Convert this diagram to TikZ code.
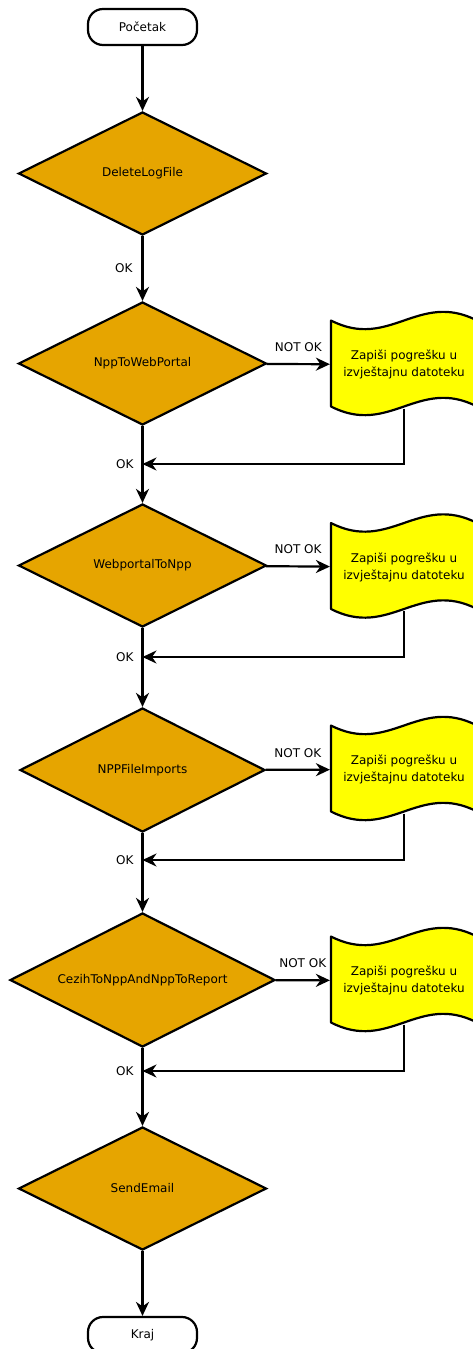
\documentclass[tikz,border=0pt]{standalone}
\usepackage{fontspec}
\setmainfont{DejaVu Sans}
\usetikzlibrary{shapes.geometric,arrows.meta,calc}
\definecolor{decisionfill}{RGB}{230,165,0}
\definecolor{notefill}{RGB}{255,255,0}
\begin{document}
\begin{tikzpicture}[x=1pt,y=-1pt,
  font=\fontsize{12}{17}\selectfont,
  line width=2.2pt,
  every node/.style={inner sep=0pt},
  terminal/.style={draw, rectangle, rounded corners=15pt, minimum width=109pt,
    minimum height=36pt, fill=white},
  decision/.style={draw, diamond, aspect=2, fill=decisionfill, minimum width=248pt,
    minimum height=123pt},
  notebox/.style={minimum width=146pt, minimum height=86pt, align=center},
  wavebox/.style={draw, fill=notefill, line join=round},
  flow/.style={-{Stealth[length=14pt,width=13pt,inset=4.5pt]}},
  notok/.style={midway, yshift=17pt},
  oklbl/.style={left=8pt}
]
\useasboundingbox (0,0) rectangle (472,1349);

% start / end terminals
\node[terminal] (start) at (142.5,27) {Početak};
\node[terminal] (stop)  at (142.5,1335) {Kraj};

% decision steps
\node[decision] (d1) at (142.5,173.5) {DeleteLogFile};
\node[decision] (d2) at (142.5,363.5) {NppToWebPortal};
\node[decision] (d3) at (142.5,565.5) {WebportalToNpp};
\node[decision, minimum width=245pt, minimum height=124pt] (d4) at (142.5,770) {NPPFileImports};
\node[decision, minimum width=265pt, minimum height=134pt] (d5) at (142.5,980) {CezihToNppAndNppToReport};
\node[decision] (d6) at (142.5,1188.5) {SendEmail};

% error-report boxes with wavy top and bottom
\foreach \cy/\nm in {363.5/e1, 566/e2, 768.5/e3, 979.5/e4} {
  \draw[wavebox] (331,\cy-43) .. controls +(58.4,30) and +(-58.4,-30) .. (477,\cy-43)
    -- (477,\cy+43) .. controls +(-58.4,-30) and +(58.4,30) .. (331,\cy+43) -- cycle;
  \node[notebox] (\nm) at (404,\cy+1) {Zapiši pogrešku u\\izvještajnu datoteku};
}

% junctions where the error path rejoins the main flow
\coordinate (j1) at (142.5,464);
\coordinate (j2) at (142.5,657);
\coordinate (j3) at (142.5,860);
\coordinate (j4) at (142.5,1071);

% main flow
\draw[flow] (start) -- (d1);
\draw[flow] (d1) -- node[left=9pt] (ok0) {OK} (d2);
\draw[flow] (d2) -- (d3);
\draw[flow] (d3) -- (d4);
\draw[flow] (d4) -- (d5);
\draw[flow] (d5) -- (d6);
\draw[flow] (d6) -- (stop);

% error branches
\draw[flow] (d2) -- node[notok] (n1) {NOT OK} (e1);
\draw[flow] (d3) -- node[notok] (n2) {NOT OK} (e2);
\draw[flow] (d4) -- node[notok] (n3) {NOT OK} (e3);
\draw[flow] (d5) -- node[notok] (n4) {NOT OK} (e4);

% return paths
\draw[flow] (e1.south) |- (j1);
\draw[flow] (e2.south) |- (j2);
\draw[flow] (e3.south) |- (j3);
\draw[flow] (e4.south) |- (j4);

\node[oklbl] (ok1) at (j1) {OK};
\node[oklbl] (ok2) at (j2) {OK};
\node[oklbl] (ok3) at (j3) {OK};
\node[oklbl] (ok4) at (j4) {OK};
\end{tikzpicture}
\end{document}
